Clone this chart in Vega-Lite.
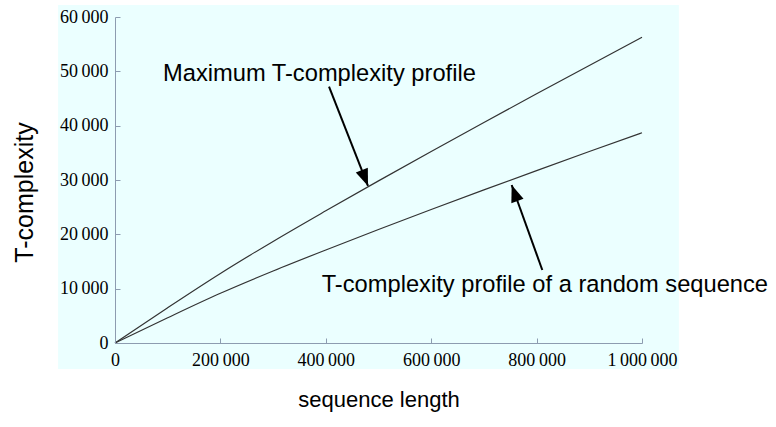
{
  "$schema": "https://vega.github.io/schema/vega-lite/v6.json",
  "width": 527,
  "height": 326,
  "autosize": "none",
  "padding": {"left": 115, "top": 17, "right": 134, "bottom": 84},
  "background": "white",
  "config": {"view": {"stroke": null}, "font": "Liberation Sans"},
  "datasets": {
    "curves": [
      {"series": "max", "n": 0, "t": 0},
      {"series": "max", "n": 100000, "t": 6500},
      {"series": "max", "n": 200000, "t": 12800},
      {"series": "max", "n": 300000, "t": 18698},
      {"series": "max", "n": 400000, "t": 24326},
      {"series": "max", "n": 500000, "t": 29839},
      {"series": "max", "n": 600000, "t": 35255},
      {"series": "max", "n": 700000, "t": 40593},
      {"series": "max", "n": 800000, "t": 45869},
      {"series": "max", "n": 900000, "t": 51089},
      {"series": "max", "n": 1000000, "t": 56260},
      {"series": "random", "n": 0, "t": 0},
      {"series": "random", "n": 100000, "t": 4650},
      {"series": "random", "n": 200000, "t": 9150},
      {"series": "random", "n": 300000, "t": 13254},
      {"series": "random", "n": 400000, "t": 17122},
      {"series": "random", "n": 500000, "t": 20884},
      {"series": "random", "n": 600000, "t": 24564},
      {"series": "random", "n": 700000, "t": 28172},
      {"series": "random", "n": 800000, "t": 31729},
      {"series": "random", "n": 900000, "t": 35235},
      {"series": "random", "n": 1000000, "t": 38700}
    ],
    "arrows": [
      {"id": "max", "x0": 406100, "y0": 47170, "x1": 480100, "y1": 28900},
      {"id": "random", "x0": 810800, "y0": 13440, "x1": 752700, "y1": 29080}
    ],
    "labels": [
      {"text": "Maximum T-complexity profile", "x": 91100, "y": 48220},
      {"text": "T-complexity profile of a random sequence", "x": 392200, "y": 9440}
    ]
  },
  "encoding": {
    "x": {
      "type": "quantitative",
      "scale": {"domain": [0, 1000000], "nice": false},
      "axis": {
        "title": "sequence length",
        "values": [0, 200000, 400000, 600000, 800000, 1000000],
        "labelExpr": "replace(format(datum.value, ','), regexp(',', 'g'), '\u2009')",
        "labelFont": "Liberation Serif", "labelFontSize": 18, "labelColor": "black",
        "labelFlush": false, "labelOverlap": false, "labelPadding": 13,
        "tickSize": -5, "tickColor": "#8d9cb0", "domainColor": "#8d9cb0", "grid": false,
        "titleFont": "Liberation Sans", "titleFontSize": 22, "titleFontWeight": "normal", "titleColor": "black",
        "titleBaseline": "alphabetic", "titleX": 263.5, "titleY": 63, "zindex": 1
      }
    },
    "y": {
      "type": "quantitative",
      "scale": {"domain": [0, 60000], "nice": false},
      "axis": {
        "title": "T-complexity",
        "values": [0, 10000, 20000, 30000, 40000, 50000, 60000],
        "labelExpr": "replace(format(datum.value, ','), regexp(',', 'g'), '\u2009')",
        "labelFont": "Liberation Serif", "labelFontSize": 18, "labelColor": "black",
        "labelFlush": false, "labelOverlap": false, "labelPadding": 12,
        "tickSize": -5, "tickColor": "#8d9cb0", "domainColor": "#8d9cb0", "grid": false,
        "titleFont": "Liberation Sans", "titleFontSize": 25, "titleFontWeight": "normal", "titleColor": "black",
        "titleAngle": 270, "titleAlign": "center", "titleBaseline": "alphabetic", "titleX": -83, "titleY": 175, "zindex": 1
      }
    }
  },
  "layer": [
    {
      "data": {"values": [{}]},
      "mark": {"type": "rect", "color": "#ebffff"},
      "encoding": {
        "x": {"datum": -108000},
        "x2": {"datum": 1070000},
        "y": {"datum": -4800},
        "y2": {"datum": 62200}
      }
    },
    {
      "data": {"name": "curves"},
      "mark": {"type": "line", "color": "#333333", "strokeWidth": 1.2, "interpolate": "monotone"},
      "encoding": {
        "x": {"field": "n"},
        "y": {"field": "t"},
        "detail": {"field": "series"}
      }
    },
    {
      "data": {"name": "arrows"},
      "mark": {"type": "rule", "color": "black", "strokeWidth": 2},
      "encoding": {
        "x": {"field": "x0"},
        "y": {"field": "y0"},
        "x2": {"field": "x1"},
        "y2": {"field": "y1"}
      }
    },
    {
      "data": {"name": "arrows"},
      "transform": [{"filter": "datum.id == 'max'"}],
      "mark": {"type": "point", "shape": "M0,0L-0.38,1L0.38,1Z", "filled": true, "color": "black", "opacity": 1, "size": 1156, "angle": 158.6},
      "encoding": {
        "x": {"field": "x1"},
        "y": {"field": "y1"}
      }
    },
    {
      "data": {"name": "arrows"},
      "transform": [{"filter": "datum.id == 'random'"}],
      "mark": {"type": "point", "shape": "M0,0L-0.38,1L0.38,1Z", "filled": true, "color": "black", "opacity": 1, "size": 1156, "angle": -19.8},
      "encoding": {
        "x": {"field": "x1"},
        "y": {"field": "y1"}
      }
    },
    {
      "data": {"name": "labels"},
      "mark": {"type": "text", "align": "left", "baseline": "alphabetic", "font": "Liberation Sans", "fontSize": 23.7, "color": "black"},
      "encoding": {
        "x": {"field": "x"},
        "y": {"field": "y"},
        "text": {"field": "text"}
      }
    }
  ]
}
